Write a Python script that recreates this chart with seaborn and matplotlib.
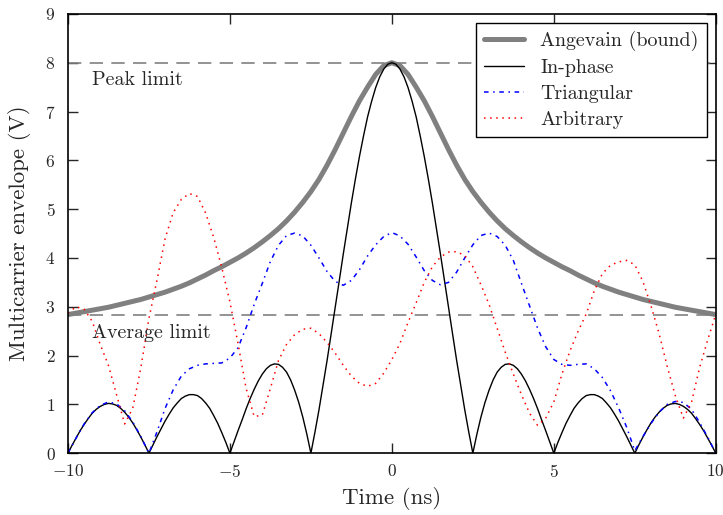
import numpy as np
import pandas as pd
import seaborn as sns
import matplotlib
matplotlib.use("Agg")
import matplotlib.pyplot as plt

# sample times (ns): every 0.25 ns, and every 0.125 ns for the in-phase curve
time_ns = np.linspace(-10, 10, 81)
time_fine = np.linspace(-10, 10, 161)

angevain = [2.84, 2.87, 2.90, 2.93, 2.96, 2.99, 3.03, 3.07, 3.11, 3.15,
            3.20, 3.25, 3.30, 3.36, 3.42, 3.49, 3.57, 3.65, 3.74, 3.82,
            3.91, 4.00, 4.10, 4.21, 4.33, 4.46, 4.60, 4.76, 4.94, 5.14,
            5.36, 5.61, 5.90, 6.22, 6.56, 6.90, 7.22, 7.50, 7.76, 7.94,
            8.00,
            7.94, 7.76, 7.50, 7.22, 6.90, 6.56, 6.22, 5.90, 5.61, 5.36,
            5.14, 4.94, 4.76, 4.60, 4.46, 4.33, 4.21, 4.10, 4.00, 3.91,
            3.82, 3.74, 3.65, 3.57, 3.49, 3.42, 3.36, 3.30, 3.25, 3.20,
            3.15, 3.11, 3.07, 3.03, 2.99, 2.96, 2.93, 2.90, 2.87, 2.84]

in_phase = [0.00, 0.16, 0.31, 0.46, 0.59, 0.71, 0.82, 0.90,
            0.96, 1.00, 1.02, 1.01, 0.98, 0.92, 0.84, 0.74,
            0.62, 0.48, 0.33, 0.17, 0.00, 0.17, 0.34, 0.50,
            0.66, 0.80, 0.93, 1.03, 1.12, 1.17, 1.20, 1.20,
            1.18, 1.12, 1.03, 0.92, 0.77, 0.61, 0.42, 0.22,
            0.00, 0.23, 0.46, 0.68, 0.91, 1.12, 1.31, 1.48,
            1.62, 1.73, 1.80, 1.83, 1.82, 1.76, 1.66, 1.50,
            1.29, 1.04, 0.74, 0.39, 0.00, 0.43, 0.89, 1.39,
            1.90, 2.44, 2.98, 3.53, 4.08, 4.61, 5.13, 5.62,
            6.08, 6.50, 6.89, 7.21, 7.49, 7.71, 7.87, 7.97,
            8.00,
            7.97, 7.87, 7.71, 7.49, 7.21, 6.89, 6.50, 6.08,
            5.62, 5.13, 4.61, 4.08, 3.53, 2.98, 2.44, 1.90,
            1.39, 0.89, 0.43, 0.00, 0.39, 0.74, 1.04, 1.29,
            1.50, 1.66, 1.76, 1.82, 1.83, 1.80, 1.73, 1.62,
            1.48, 1.31, 1.12, 0.91, 0.68, 0.46, 0.23, 0.00,
            0.22, 0.42, 0.61, 0.77, 0.92, 1.03, 1.12, 1.18,
            1.20, 1.20, 1.17, 1.12, 1.03, 0.93, 0.80, 0.66,
            0.50, 0.34, 0.17, 0.00, 0.17, 0.33, 0.48, 0.62,
            0.74, 0.84, 0.92, 0.98, 1.01, 1.02, 1.00, 0.96,
            0.90, 0.82, 0.71, 0.59, 0.46, 0.31, 0.16, 0.00]

triangular = [0.00, 0.31, 0.60, 0.83, 0.98, 1.05, 1.01, 0.87, 0.64, 0.34,
              0.00, 0.44, 0.92, 1.30, 1.58, 1.73, 1.80, 1.83, 1.84, 1.85,
              1.95, 2.16, 2.57, 3.05, 3.48, 3.93, 4.26, 4.46, 4.51, 4.45,
              4.26, 4.00, 3.72, 3.52, 3.44, 3.54, 3.76, 4.04, 4.27, 4.44,
              4.52,
              4.45, 4.28, 4.02, 3.74, 3.54, 3.45, 3.50, 3.71, 4.00, 4.27,
              4.46, 4.51, 4.44, 4.26, 3.95, 3.48, 3.02, 2.56, 2.18, 1.92,
              1.82, 1.80, 1.82, 1.83, 1.73, 1.55, 1.28, 0.93, 0.53, 0.05,
              0.34, 0.61, 0.84, 1.00, 1.06, 1.04, 0.90, 0.63, 0.33, 0.00]

arbitrary = [2.87, 3.00, 2.95, 2.70, 2.22, 1.80, 1.20, 0.60, 0.92, 1.75,
             2.76, 3.55, 4.40, 4.93, 5.20, 5.32, 5.26, 4.92, 4.42, 3.80,
             3.10, 2.25, 1.33, 0.75, 0.78, 1.33, 1.90, 2.23, 2.43, 2.54,
             2.56, 2.45, 2.27, 2.05, 1.80, 1.58, 1.43, 1.37, 1.43, 1.64,
             1.92,
             2.25, 2.68, 3.08, 3.50, 3.82, 4.02, 4.12, 4.13, 4.05, 3.82,
             3.45, 3.05, 2.56, 2.07, 1.62, 1.20, 0.82, 0.57, 0.72, 1.05,
             1.62, 2.10, 2.50, 2.85, 3.33, 3.68, 3.85, 3.92, 3.95, 3.86,
             3.52, 3.02, 2.45, 1.78, 1.18, 0.72, 1.04, 1.75, 2.32, 2.85]

peak_limit = 8.0
average_limit = 2.83

sns.set_style("ticks")
plt.rcParams["font.family"] = ["cmr10", "DejaVu Serif"]
plt.rcParams["mathtext.fontset"] = "cm"
plt.rcParams["axes.formatter.use_mathtext"] = True
plt.rcParams["axes.unicode_minus"] = True

fig = plt.figure(figsize=(7.23, 5.15), dpi=100)
ax = fig.add_axes([0.094, 0.120, 0.896, 0.853])

ax.axhline(peak_limit, color="#808080", lw=1.2, ls=(0, (8, 5)), zorder=1)
ax.axhline(average_limit, color="#808080", lw=1.2, ls=(0, (8, 5)), zorder=1)

sns.lineplot(x=time_ns, y=angevain, ax=ax, color="#808080", lw=3.6,
             label="Angevain (bound)", estimator=None)
sns.lineplot(x=time_fine, y=in_phase, ax=ax, color="black", lw=1.0,
             label="In-phase", estimator=None)
sns.lineplot(x=time_ns, y=triangular, ax=ax, color="blue", lw=1.1,
             linestyle=(0, (3, 3, 1, 3)), label="Triangular", estimator=None)
sns.lineplot(x=time_ns, y=arbitrary, ax=ax, color="red", lw=1.1,
             linestyle=(0, (1, 3)), label="Arbitrary", estimator=None)

ax.text(-9.25, 7.65, "Peak limit", fontsize=14.4, ha="left", va="center")
ax.text(-9.25, 2.46, "Average limit", fontsize=14.4, ha="left", va="center")

ax.set_xlim(-10, 10)
ax.set_ylim(0, 9)
ax.set_xticks([-10, -5, 0, 5, 10])
ax.set_yticks(range(0, 10))
ax.tick_params(direction="in", length=7, width=1, top=True, right=True,
               labelsize=12.5)
ax.tick_params(axis="y", pad=9)
ax.tick_params(axis="x", pad=7)
for s in ax.spines.values():
    s.set_visible(True)
    s.set_linewidth(1.2)
    s.set_color("black")

ax.set_xlabel("Time (ns)", fontsize=16.5, labelpad=5)
ax.set_ylabel("Multicarrier envelope (V)", fontsize=16.5, labelpad=10)

leg = ax.legend(loc="upper right", fontsize=14.4, frameon=True, fancybox=False,
                edgecolor="black", framealpha=1, borderaxespad=0.45,
                handlelength=2.0, labelspacing=0.4)
leg.get_frame().set_linewidth(1.0)

fig.savefig("out.png", dpi=100)
